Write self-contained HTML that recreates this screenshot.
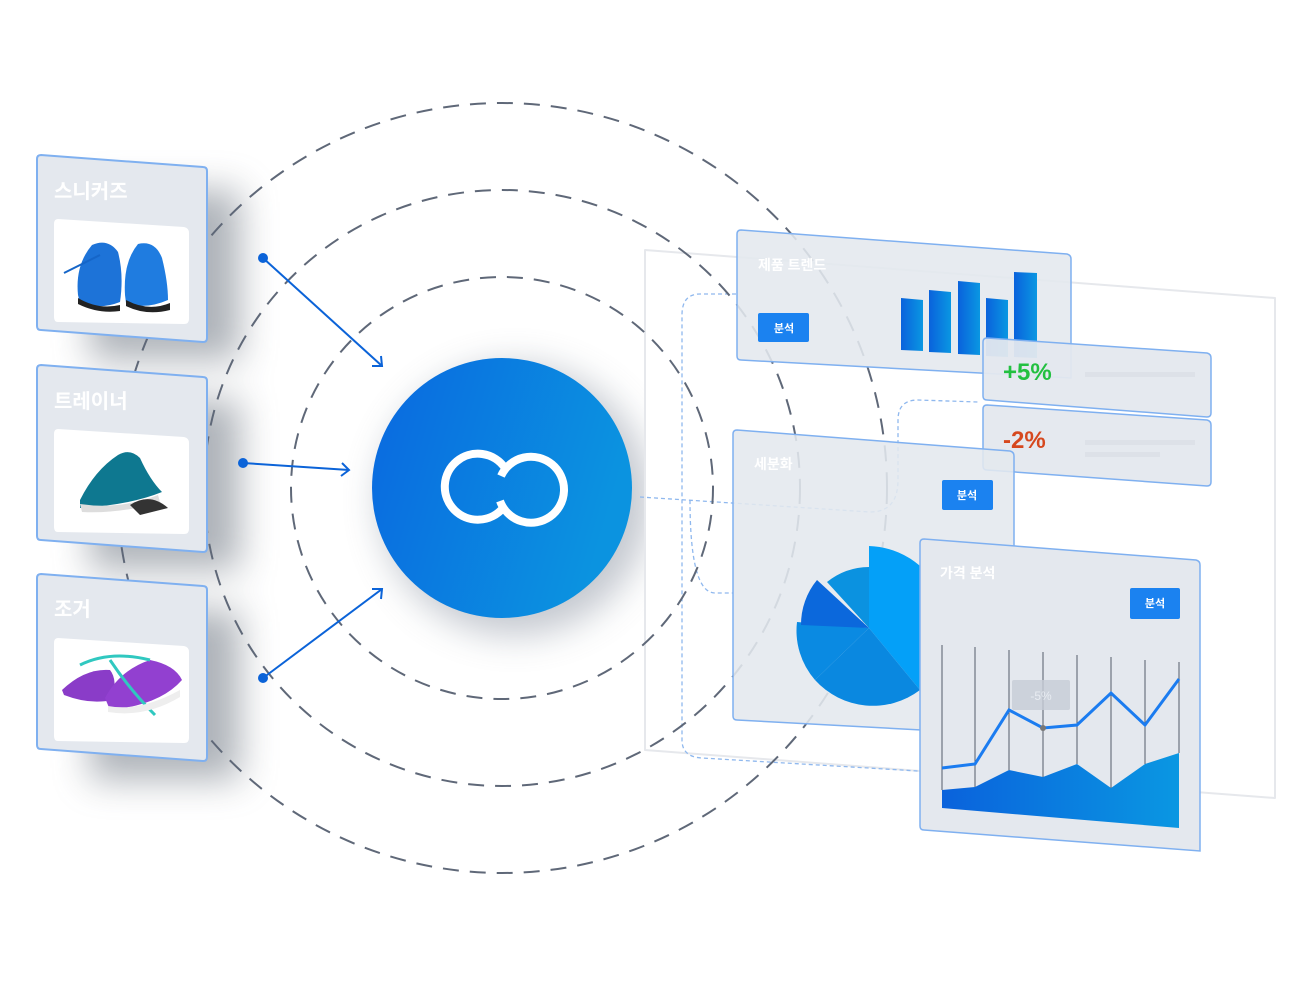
<!DOCTYPE html>
<html><head><meta charset="utf-8"><style>
html,body{margin:0;padding:0;background:#fff;}
svg{display:block;}
text{font-family:"Liberation Sans","Noto Sans CJK KR",sans-serif;}
</style></head><body>
<svg width="1314" height="1003" viewBox="0 0 1314 1003" xmlns="http://www.w3.org/2000/svg">
<defs>
<linearGradient id="cg" x1="0" y1="0" x2="1" y2="0.3"><stop offset="0" stop-color="#0a68e0"/><stop offset="1" stop-color="#0b93e0"/></linearGradient>
<linearGradient id="bg" x1="0" y1="0" x2="1" y2="0"><stop offset="0" stop-color="#0a62dc"/><stop offset="1" stop-color="#0a97e2"/></linearGradient>
<filter id="blur20" x="-50%" y="-50%" width="200%" height="200%"><feGaussianBlur stdDeviation="18"/></filter>
</defs>

<circle cx="515" cy="500" r="135" fill="#7a8494" opacity="0.45" filter="url(#blur20)"/>

<g fill="#6c7480" opacity="0.55" filter="url(#blur20)">
<rect x="90" y="190" width="150" height="170"/>
<rect x="90" y="400" width="150" height="170"/>
<rect x="90" y="610" width="150" height="170"/>
</g>

<polygon points="645,250 1275,298 1275,798 645,750" fill="#fff" stroke="#e6e8ec" stroke-width="2" stroke-linejoin="round"/>

<g fill="none" stroke="#8fb8ee" stroke-width="1.3" stroke-dasharray="4 3">
<path d="M640,497 L870,512 Q898,512 898,480 L898,420 Q898,400 918,400 L978,402"/>
<path d="M736,294 L700,294 Q682,294 682,315 L682,740 Q682,757 702,758 L918,771"/>
<path d="M690,500 Q690,593 715,593 L733,593"/>
</g>

<g fill="none" stroke="#5f6878" stroke-width="2" stroke-dasharray="16 11">
<circle cx="502" cy="488" r="385"/>
<circle cx="502" cy="488" r="298"/>
<circle cx="502" cy="488" r="211"/>
</g>

<circle cx="502" cy="488" r="130" fill="url(#cg)"/>
<g fill="none" stroke="#fff" stroke-width="8">
<path d="M505,468 A33,33 0 1 0 503,508"/>
<path d="M501,476 A33,33 0 1 1 500,501"/>
</g>

<g stroke="#0b63d8" stroke-width="2" fill="none">
<line x1="263" y1="258" x2="382" y2="366"/><polyline points="372,366 382,366 381,356"/>
<line x1="243" y1="463" x2="349" y2="470"/><polyline points="342,463 349,470 341,476"/>
<line x1="263" y1="678" x2="382" y2="589"/><polyline points="372,589 382,589 381,599"/>
</g>
<g fill="#0b63d8"><circle cx="263" cy="258" r="5"/><circle cx="243" cy="463" r="5"/><circle cx="263" cy="678" r="5"/></g>

<g stroke="#7fb0f0" stroke-width="2" fill="#e4e8ee">
<path d="M41,155 L203,167 Q207,167 207,171 L207,338 Q207,342 203,342 L41,330 Q37,330 37,326 L37,159 Q37,155 41,155Z"/>
<path d="M41,365 L203,377 Q207,377 207,381 L207,548 Q207,552 203,552 L41,540 Q37,540 37,536 L37,369 Q37,365 41,365Z"/>
<path d="M41,574 L203,586 Q207,586 207,590 L207,757 Q207,761 203,761 L41,749 Q37,749 37,745 L37,578 Q37,574 41,574Z"/>
</g>
<g fill="#fff">
<path d="M58,219 L184,227 Q189,228 189,233 L189,319 Q189,324 184,324 L58,322 Q54,322 54,317 L54,224 Q54,219 58,219Z"/>
<path d="M58,429 L184,437 Q189,438 189,443 L189,529 Q189,534 184,534 L58,532 Q54,532 54,527 L54,434 Q54,429 58,429Z"/>
<path d="M58,638 L184,646 Q189,647 189,652 L189,738 Q189,743 184,743 L58,741 Q54,741 54,736 L54,643 Q54,638 58,638Z"/>
</g>
<g font-size="20" font-weight="700" fill="#fff">
<text x="54" y="198">스니커즈</text>
<text x="54" y="408">트레이너</text>
<text x="54" y="616">조거</text>
</g>
<g>
<path d="M78,295 Q75,265 92,245 Q108,238 118,252 Q124,275 120,302 Q100,310 80,303Z" fill="#1d73d8"/>
<path d="M78,298 Q98,310 120,305 L120,311 Q98,314 78,304Z" fill="#222"/>
<path d="M125,295 Q123,262 138,244 Q155,240 162,258 Q168,282 168,300 Q145,310 126,303Z" fill="#1f7ce0"/>
<path d="M126,300 Q148,312 170,303 L170,310 Q146,316 126,306Z" fill="#222"/>
<line x1="64" y1="273" x2="100" y2="255" stroke="#1565c8" stroke-width="2"/>
<path d="M80,500 Q95,470 118,455 Q130,448 140,458 Q150,480 162,492 Q130,505 80,508Z" fill="#0e7890"/>
<path d="M80,504 Q120,510 158,495 L160,502 Q120,514 82,512Z" fill="#ddd"/>
<path d="M130,505 Q150,492 168,508 L140,515Z" fill="#333"/>
<path d="M62,690 Q85,668 110,670 Q118,680 112,700 Q90,705 64,695Z" fill="#8a3cc8"/>
<path d="M105,698 Q120,670 150,660 Q175,665 182,680 Q160,705 110,710Z" fill="#9240d0"/>
<path d="M80,665 Q110,650 150,660 M110,660 Q130,690 155,715" stroke="#30c8c0" stroke-width="3" fill="none"/>
<path d="M108,706 Q140,712 180,690 L180,697 Q145,718 108,712Z" fill="#eee"/>
</g>

<path d="M741,230 L1067,254 Q1071,255 1071,259 L1071,378 L741,360 Q737,360 737,356 L737,234 Q737,230 741,230Z" fill="#e4e8ee" fill-opacity="0.88" stroke="#7fb0f0" stroke-width="1.5"/>
<text x="758" y="270" font-size="14" font-weight="700" fill="#fff">제품 트렌드</text>
<rect x="758" y="313" width="51" height="29" rx="2" fill="#1b82f0"/>
<text x="784" y="332" font-size="11" font-weight="700" fill="#fff" text-anchor="middle">분석</text>
<g fill="url(#bg)">
<polygon points="901,298 923,300 923,351 901,350"/>
<polygon points="929,290 951,292 951,353 929,352"/>
<polygon points="958,281 980,283 980,355 958,354"/>
<polygon points="986,298 1008,300 1008,357 986,356"/>
<polygon points="1014,272 1037,273 1037,358 1014,357"/>
</g>

<path d="M987,338 L1207,353 Q1211,354 1211,358 L1211,413 Q1211,417 1207,417 L987,400 Q983,400 983,396 L983,342 Q983,338 987,338Z" fill="#e4e8ee" fill-opacity="0.95" stroke="#7fb0f0" stroke-width="1.5"/>
<text x="1003" y="380" font-size="24" font-weight="700" fill="#22c040">+5%</text>
<path d="M987,405 L1207,420 Q1211,421 1211,425 L1211,482 Q1211,486 1207,486 L987,470 Q983,470 983,466 L983,409 Q983,405 987,405Z" fill="#e4e8ee" fill-opacity="0.95" stroke="#7fb0f0" stroke-width="1.5"/>
<text x="1003" y="448" font-size="24" font-weight="700" fill="#d6481e">-2%</text>
<g fill="#dde1e8"><rect x="1085" y="372" width="110" height="5"/><rect x="1085" y="440" width="110" height="5"/><rect x="1085" y="452" width="75" height="5"/></g>

<path d="M737,430 L1010,451 Q1014,452 1014,456 L1014,735 L737,720 Q733,720 733,716 L733,434 Q733,430 737,430Z" fill="#e4e8ee" fill-opacity="0.88" stroke="#7fb0f0" stroke-width="1.5"/>
<text x="754" y="469" font-size="14" font-weight="700" fill="#fff">세분화</text>
<rect x="942" y="480" width="51" height="30" rx="2" fill="#1b82f0"/>
<text x="967" y="499" font-size="11" font-weight="700" fill="#fff" text-anchor="middle">분석</text>
<g>
<path d="M869,628 L869,546 A82,82 0 0 1 920,690 Z" fill="#04a0f8"/>
<path d="M869,628 L920,690 A78,78 0 0 1 815,680 Z" fill="#0a88e0"/>
<path d="M869,628 L815,680 A75,75 0 0 1 797,622 Z" fill="#0a8ae2"/>
<path d="M869,628 L801,625 A70,70 0 0 1 817,580 Z" fill="#0b68dc"/>
<path d="M869,628 L827,582 A68,68 0 0 1 869,567 Z" fill="#0b92e0"/>
</g>

<path d="M924,539 L1196,560 Q1200,561 1200,565 L1200,851 L924,830 Q920,830 920,826 L920,543 Q920,539 924,539Z" fill="#e4e8ee" stroke="#7fb0f0" stroke-width="1.5"/>
<text x="940" y="578" font-size="14" font-weight="700" fill="#fff">가격 분석</text>
<rect x="1130" y="588" width="50" height="31" rx="2" fill="#1b82f0"/>
<text x="1155" y="607" font-size="11" font-weight="700" fill="#fff" text-anchor="middle">분석</text>
<polygon points="942,790 975,787 1009,770 1043,777 1077,764 1111,788 1145,764 1179,753 1179,828 942,808" fill="url(#bg)"/>
<g stroke="#555d6a" stroke-width="1">
<line x1="942" y1="645" x2="942" y2="790"/><line x1="975" y1="647" x2="975" y2="787"/><line x1="1009" y1="650" x2="1009" y2="770"/><line x1="1043" y1="652" x2="1043" y2="777"/><line x1="1077" y1="655" x2="1077" y2="764"/><line x1="1111" y1="657" x2="1111" y2="788"/><line x1="1145" y1="660" x2="1145" y2="764"/><line x1="1179" y1="662" x2="1179" y2="753"/>
</g>
<polyline points="942,768 975,764 1009,710 1043,728 1077,725 1111,693 1145,725 1179,679" fill="none" stroke="#1b7cf0" stroke-width="3"/>
<rect x="1012" y="680" width="58" height="30" rx="2" fill="#c5ccd6" opacity="0.8"/>
<text x="1041" y="700" font-size="12" fill="#e8ecf2" text-anchor="middle">-5%</text>
<circle cx="1043" cy="728" r="3" fill="#777"/>
</svg>
</body></html>
